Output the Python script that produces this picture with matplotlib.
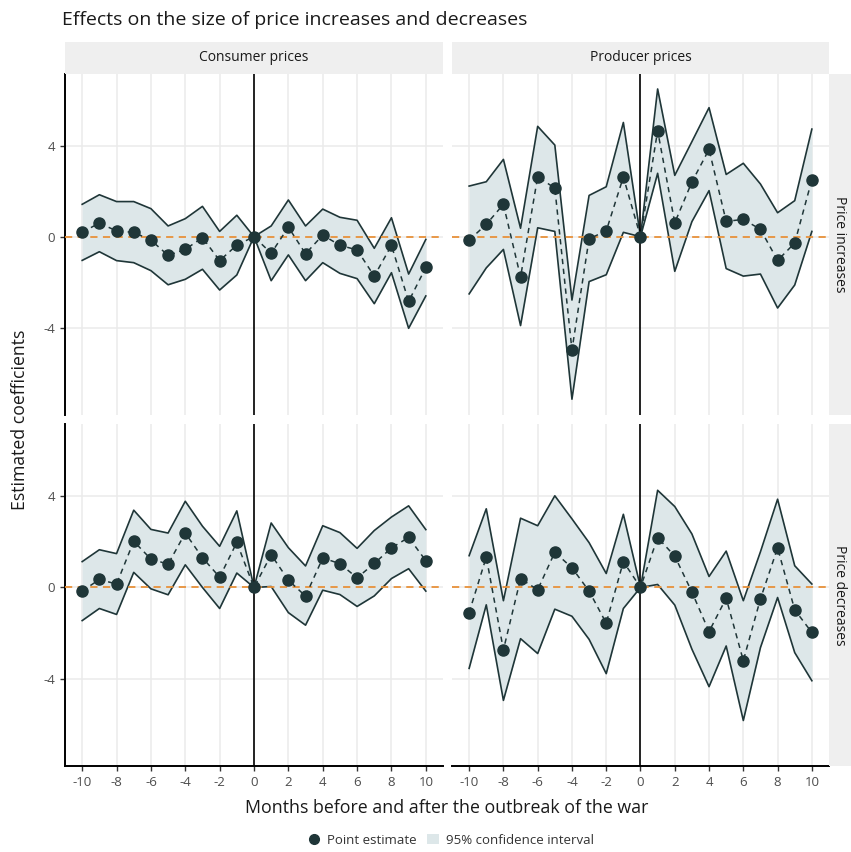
import matplotlib
matplotlib.use('Agg')
import matplotlib.pyplot as plt
from matplotlib.lines import Line2D
from matplotlib.patches import Patch
import numpy as np

plt.rcParams['font.family'] = ['Open Sans', 'DejaVu Sans']
plt.rcParams['axes.unicode_minus'] = False

months = np.arange(-10, 11)

# Consumer prices - price increases
ci_est = [0.19, 0.60, 0.25, 0.19, -0.15, -0.82, -0.56, -0.04, -1.05, -0.37, 0.0,
          -0.73, 0.42, -0.75, 0.07, -0.38, -0.58, -1.73, -0.38, -2.84, -1.35]
ci_hi = [1.42, 1.84, 1.54, 1.54, 1.23, 0.47, 0.79, 1.33, 0.23, 0.94, 0.0,
         0.47, 1.61, 0.47, 1.21, 0.85, 0.72, -0.51, 0.83, -1.64, -0.12]
ci_lo = [-1.04, -0.66, -1.05, -1.14, -1.49, -2.11, -1.87, -1.43, -2.34, -1.68, 0.0,
         -1.93, -0.80, -1.93, -1.14, -1.61, -1.84, -2.94, -1.58, -4.02, -2.60]

# Producer prices - price increases
pi_est = [-0.15, 0.54, 1.42, -1.77, 2.63, 2.13, -4.97, -0.09, 0.25, 2.62, 0.0,
          4.65, 0.61, 2.40, 3.83, 0.67, 0.76, 0.32, -1.04, -0.28, 2.50]
pi_hi = [2.22, 2.41, 3.39, 0.37, 4.84, 4.02, -2.78, 1.81, 2.19, 5.01, 0.0,
         6.48, 2.69, 4.17, 5.66, 2.73, 3.22, 2.31, 1.05, 1.58, 4.72]
pi_lo = [-2.51, -1.37, -0.56, -3.90, 0.39, 0.23, -7.13, -1.97, -1.67, 0.19, 0.0,
         2.78, -1.52, 0.66, 2.02, -1.40, -1.73, -1.64, -3.13, -2.12, 0.23]

# Consumer prices - price decreases
cd_est = [-0.16, 0.35, 0.15, 2.02, 1.24, 1.02, 2.38, 1.30, 0.45, 1.97, 0.0,
          1.43, 0.32, -0.38, 1.29, 1.04, 0.42, 1.05, 1.73, 2.19, 1.17]
cd_hi = [1.13, 1.65, 1.48, 3.38, 2.54, 2.38, 3.77, 2.68, 1.80, 3.35, 0.0,
         2.82, 1.74, 0.94, 2.70, 2.40, 1.71, 2.49, 3.08, 3.57, 2.53]
cd_lo = [-1.45, -0.92, -1.18, 0.66, -0.06, -0.32, 0.99, 0.0, -0.92, 0.63, 0.0,
         0.04, -1.10, -1.65, -0.12, -0.31, -0.83, -0.37, 0.39, 0.82, -0.16]

# Producer prices - price decreases
pd_est = [-1.10, 1.33, -2.73, 0.38, -0.10, 1.54, 0.86, -0.16, -1.56, 1.13, 0.0,
          2.18, 1.37, -0.20, -1.93, -0.47, -3.20, -0.50, 1.73, -0.98, -1.97]
pd_hi = [1.39, 3.44, -0.58, 3.03, 2.70, 4.01, 3.00, 1.96, 0.61, 3.20, 0.0,
         4.25, 3.54, 2.34, 0.48, 1.59, -0.58, 1.56, 3.86, 0.95, 0.15]
pd_lo = [-3.54, -0.76, -4.94, -2.24, -2.89, -0.95, -1.26, -2.27, -3.77, -0.92, 0.0,
         0.13, -0.77, -2.70, -4.34, -2.56, -5.82, -2.63, -0.44, -2.85, -4.08]

col_labels = ['Consumer prices', 'Producer prices']
row_labels = ['Price increases', 'Price decreases']
panels = [[(ci_est, ci_lo, ci_hi), (pi_est, pi_lo, pi_hi)],
          [(cd_est, cd_lo, cd_hi), (pd_est, pd_lo, pd_hi)]]

W, H = 851, 852
dark = '#1f3638'
fill = '#dde7e9'
orange = '#e8913a'
grid = '#ebebeb'
strip_bg = '#efefef'

fig = plt.figure(figsize=(W / 100, H / 100), dpi=100)

# panel boxes in pixels (x0, x1) and (y0, y1) from top
cols_px = [(65, 443), (452, 829)]
rows_px = [(73.7, 414.7), (424, 766)]


def frac(x0, y0, x1, y1):
    return [x0 / W, 1 - y1 / H, (x1 - x0) / W, (y1 - y0) / H]


for r, (y0, y1) in enumerate(rows_px):
    for c, (x0, x1) in enumerate(cols_px):
        ax = fig.add_axes(frac(x0, y0, x1, y1))
        est, lo, hi = panels[r][c]
        ax.set_xlim(-11, 11)
        ax.set_ylim(-7.81, 7.15)
        ax.set_xticks(np.arange(-10, 11, 2))
        ax.set_yticks([-4, 0, 4])
        ax.grid(True, color=grid, linewidth=1.1, zorder=0)
        ax.set_axisbelow(True)
        for s in ax.spines.values():
            s.set_visible(False)

        ax.fill_between(months, lo, hi, color=fill, zorder=2, linewidth=0)
        ax.plot(months, lo, color=dark, linewidth=1.2, zorder=3)
        ax.plot(months, hi, color=dark, linewidth=1.2, zorder=3)
        ax.axhline(0, color=orange, linestyle=(0, (4, 3)), linewidth=1.3, zorder=4)
        ax.axvline(0, color='black', linewidth=1.2, zorder=4)
        ax.plot(months, est, color=dark, linestyle=(0, (3.5, 3)), linewidth=1.1, zorder=5)
        ax.plot(months, est, 'o', color=dark, markersize=8, zorder=6)

        ax.tick_params(colors='#333333', labelcolor='#4d4d4d', labelsize=9.5,
                       length=3.5, width=1.0)
        if c == 0:
            ax.spines['left'].set_visible(True)
            ax.spines['left'].set_linewidth(1.4)
            ax.spines['left'].set_color('black')
        else:
            ax.tick_params(axis='y', left=False, labelleft=False)
        if r == 1:
            ax.spines['bottom'].set_visible(True)
            ax.spines['bottom'].set_linewidth(1.4)
            ax.spines['bottom'].set_color('black')
        else:
            ax.tick_params(axis='x', bottom=False, labelbottom=False)

        # top strip
        if r == 0:
            sax = fig.add_axes(frac(x0, 42, x1, y0))
            sax.set_facecolor(strip_bg)
            sax.set_xticks([])
            sax.set_yticks([])
            for s in sax.spines.values():
                s.set_visible(False)
            sax.text(0.5, 0.5, col_labels[c], ha='center', va='center',
                     fontsize=10, color='#1a1a1a', transform=sax.transAxes)
        # right strip
        if c == 1:
            sax = fig.add_axes(frac(x1, y0, 851, y1))
            sax.set_facecolor(strip_bg)
            sax.set_xticks([])
            sax.set_yticks([])
            for s in sax.spines.values():
                s.set_visible(False)
            sax.text(0.5, 0.5, row_labels[r], ha='center', va='center',
                     rotation=-90, fontsize=10, color='#1a1a1a',
                     transform=sax.transAxes)

fig.text(62 / W, 1 - 20 / H, 'Effects on the size of price increases and decreases',
         ha='left', va='center', fontsize=14, color='#1a1a1a')
fig.text(447 / W, 1 - 808 / H, 'Months before and after the outbreak of the war',
         ha='center', va='center', fontsize=12.8, color='#1a1a1a')
fig.text(20 / W, 1 - 420 / H, 'Estimated coefficients', ha='center', va='center',
         rotation=90, fontsize=12.7, color='#1a1a1a')

handles = [Line2D([], [], marker='o', color=dark, linestyle='none', markersize=7),
           Patch(facecolor=fill, edgecolor='none')]
fig.legend(handles, ['Point estimate', '95% confidence interval'],
           loc='center', bbox_to_anchor=(451 / W, 1 - 840 / H), ncol=2,
           frameon=False, fontsize=9.5, handlelength=0.9, handletextpad=0.5,
           columnspacing=0.8, labelcolor='#333333')

fig.savefig('out.png', dpi=100)
